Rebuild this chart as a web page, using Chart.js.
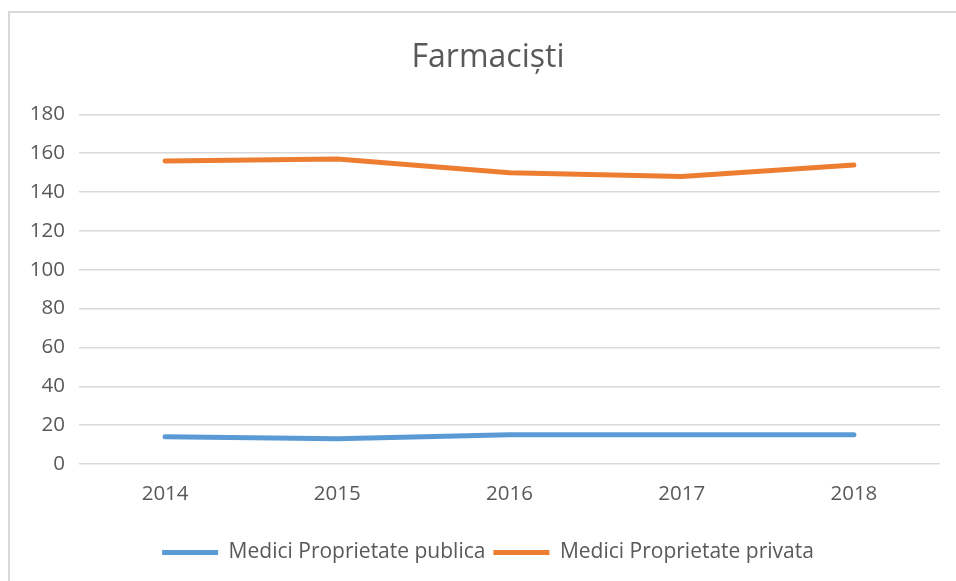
<!DOCTYPE html>
<html>
<head>
<meta charset="utf-8">
<script src="https://cdn.jsdelivr.net/npm/chart.js@4/dist/chart.umd.min.js"></script>
<style>
    body { margin: 0; background: #fff; overflow: hidden; }
    .chart-box {
        position: absolute;
        left: 8px;
        top: 11px;
        width: 960px;
        height: 580px;
        border: 2px solid #d9d9d9;
        box-sizing: border-box;
    }
    .chart-box canvas { display: block; }
</style>
</head>
<body>
<div class="chart-box">
    <canvas id="farm-chart" width="956" height="576"></canvas>
</div>
<script>
// ani
const years = ['2014', '2015', '2016', '2017', '2018'];
// medici, proprietate publica / privata
const publica = [14, 13, 15, 15, 15];
const privata = [156, 157, 150, 148, 154];

const textColor = '#595959';
const gridColor = '#d9d9d9';
const fontFamily = '"Open Sans", sans-serif';

new Chart(document.getElementById('farm-chart'), {
    type: 'line',
    data: {
        labels: years,
        datasets: [
            {
                label: 'Medici Proprietate publica',
                data: publica,
                borderColor: '#5b9bd5',
                backgroundColor: '#5b9bd5',
                borderWidth: 5,
                borderCapStyle: 'round',
                pointStyle: 'line',
                pointRadius: 0,
                tension: 0,
            },
            {
                label: 'Medici Proprietate privata',
                data: privata,
                borderColor: '#ed7d31',
                backgroundColor: '#ed7d31',
                borderWidth: 5,
                borderCapStyle: 'round',
                pointStyle: 'line',
                pointRadius: 0,
                tension: 0,
            }
        ]
    },
    options: {
        responsive: false,
        animation: false,
        layout: {
            padding: { left: 0, right: 0, top: 0, bottom: 16 }
        },
        plugins: {
            title: {
                display: true,
                text: 'Farmaciști',
                color: textColor,
                font: { family: fontFamily, size: 32, weight: 'normal' },
                padding: { top: 26, bottom: 37 },
            },
            legend: {
                position: 'bottom',
                labels: {
                    color: textColor,
                    font: { family: fontFamily, size: 21 },
                    usePointStyle: true,
                    pointStyleWidth: 56,
                    boxHeight: 21,
                    padding: 8,
                }
            },
            tooltip: { enabled: false }
        },
        scales: {
            x: {
                offset: true,
                grid: { display: false },
                border: { display: false },
                ticks: {
                    color: textColor,
                    font: { family: fontFamily, size: 20.5 },
                    padding: 10,
                },
                afterFit: (scale) => { scale.height = 70; }
            },
            y: {
                min: 0,
                max: 180,
                grid: {
                    color: gridColor,
                    lineWidth: 1.5,
                    drawTicks: false,
                },
                border: { display: false },
                ticks: {
                    stepSize: 20,
                    color: textColor,
                    font: { family: fontFamily, size: 20.5 },
                    padding: 14,
                },
                afterFit: (scale) => { scale.width = 69; }
            },
            // empty space on the right, keeps title and legend centred on the whole box
            spacer: {
                position: 'right',
                grid: { display: false },
                border: { display: false },
                ticks: { display: false },
                afterFit: (scale) => { scale.width = 26; }
            }
        }
    }
});
</script>
</body>
</html>
